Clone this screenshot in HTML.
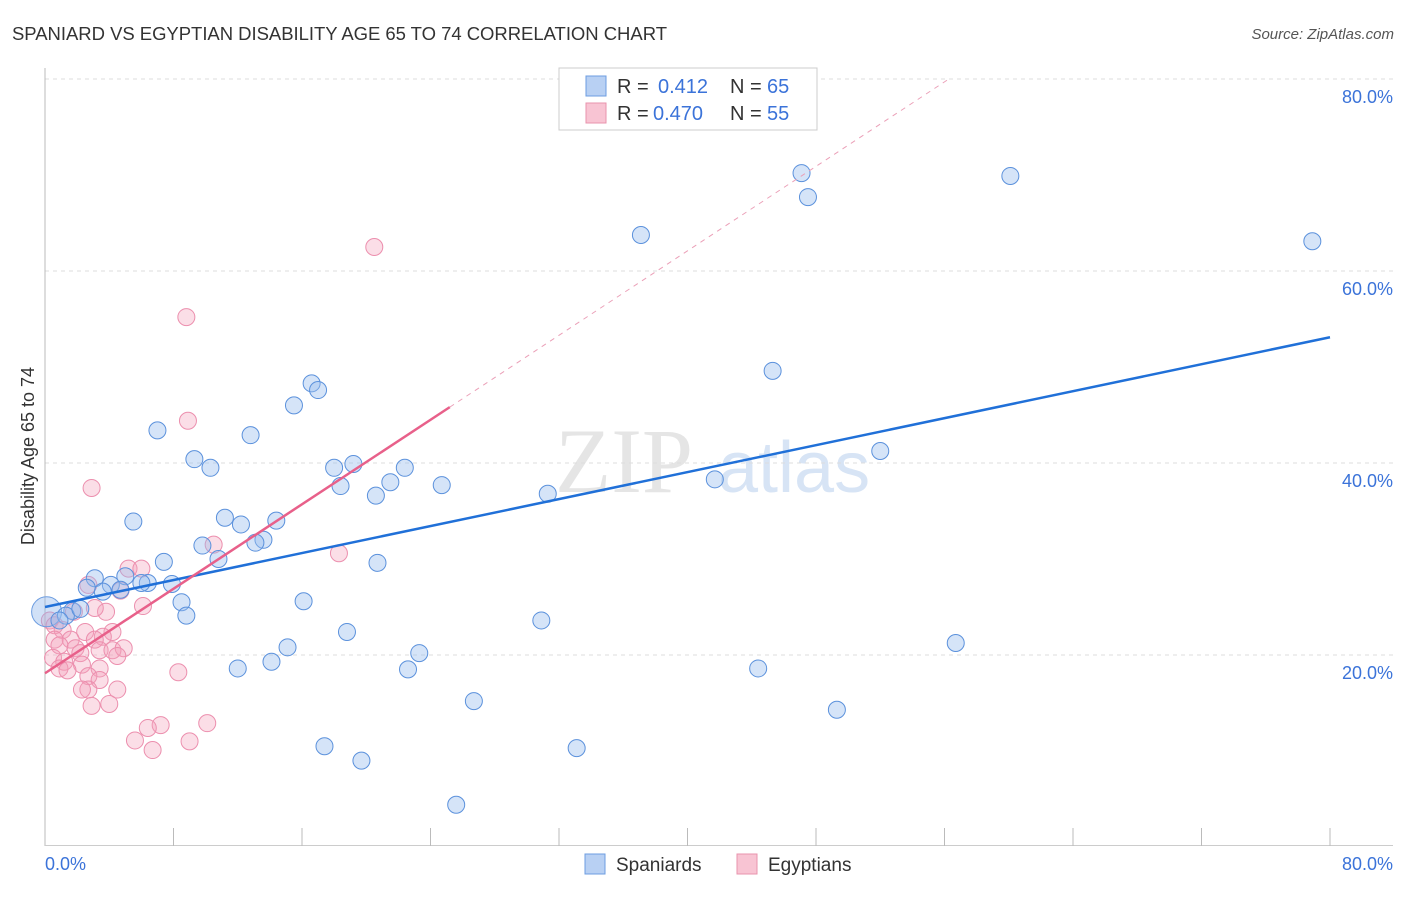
<!DOCTYPE html>
<html><head><meta charset="utf-8"><style>
body{margin:0;background:#fff;font-family:"Liberation Sans",sans-serif}
</style></head><body>
<svg width="1406" height="892" xmlns="http://www.w3.org/2000/svg" id="chart">
<text x="12" y="40" font-size="18.5" fill="#333" textLength="655">SPANIARD VS EGYPTIAN DISABILITY AGE 65 TO 74 CORRELATION CHART</text>
<text x="1394" y="39" font-size="15" fill="#555" font-style="italic" text-anchor="end">Source: ZipAtlas.com</text>
<text x="34" y="456" font-size="18" fill="#333" text-anchor="middle" transform="rotate(-90 34 456)">Disability Age 65 to 74</text>
<g><text x="555" y="492" font-size="92" fill="#e5e5e5" font-family="Liberation Serif,serif">ZIP</text><text x="718" y="492" font-size="72" fill="#d7e4f5">atlas</text></g>
<g id="grid"></g><g id="marks"></g>
<g>
<rect x="559" y="68" width="258" height="62" fill="#fff" stroke="#ccc"/>
<rect x="586" y="76" width="20" height="20" fill="#b8d0f3" stroke="#6d9de0"/>
<text x="617" y="93" font-size="20" fill="#333">R =</text>
<text x="658" y="93" font-size="20" fill="#3b73d9">0.412</text>
<text x="730" y="93" font-size="20" fill="#333">N =</text>
<text x="767" y="93" font-size="20" fill="#3b73d9">65</text>
<rect x="586" y="103" width="20" height="20" fill="#f8c4d3" stroke="#e993ad"/>
<text x="617" y="120" font-size="20" fill="#333">R =</text>
<text x="653" y="120" font-size="20" fill="#3b73d9">0.470</text>
<text x="730" y="120" font-size="20" fill="#333">N =</text>
<text x="767" y="120" font-size="20" fill="#3b73d9">55</text>
</g>
<g>
<rect x="585" y="854" width="20" height="20" fill="#b8d0f3" stroke="#6d9de0"/>
<text x="616" y="871" font-size="19" fill="#333">Spaniards</text>
<rect x="737" y="854" width="20" height="20" fill="#f8c4d3" stroke="#e993ad"/>
<text x="768" y="871" font-size="19" fill="#333">Egyptians</text>
</g>
</svg>
<script>
const blueX=[47.1,60.1,47.5,37.1,78.9,16.6,17.0,15.5,45.3,7.0,12.8,9.3,10.3,18.0,19.2,22.4,52.0,18.4,21.5,24.7,20.6,31.3,41.7,5.5,11.2,12.2,14.4,13.6,13.1,9.8,10.8,7.4,20.7,3.1,5.0,4.1,6.4,6.0,7.9,3.6,4.7,2.6,8.5,16.1,8.8,1.7,1.3,0.9,2.2,30.9,18.8,15.1,23.3,56.7,12.0,14.1,22.6,44.4,26.7,49.3,17.4,33.1,19.7,25.6];
const blueY=[70.2,69.9,67.7,63.75,63.1,48.3,47.6,46.0,49.6,43.4,42.9,40.4,39.5,39.5,39.9,39.5,41.25,37.6,38.0,37.7,36.6,36.8,38.3,33.9,34.3,33.6,34.0,32.0,31.7,31.4,30.0,29.7,29.6,28.0,28.2,27.3,27.5,27.5,27.4,26.6,26.8,27.0,25.5,25.6,24.1,24.6,24.1,23.6,24.8,23.6,22.4,20.8,20.2,21.25,18.6,19.3,18.5,18.6,15.2,14.3,10.5,10.3,9.0,4.4];
const pinkX=[20.5,8.8,8.9,2.9,10.5,18.3,5.2,6.0,2.7,4.7,6.1,3.8,3.1,1.8,0.3,0.6,1.1,2.5,4.2,3.6,0.6,1.6,3.1,0.9,1.9,3.4,4.2,4.9,2.2,0.5,1.2,4.5,2.3,3.4,0.9,1.4,8.3,2.7,3.4,2.7,4.5,2.3,4.0,2.9,10.1,7.2,6.4,5.6,9.0,6.7];
const pinkY=[62.5,55.2,44.4,37.4,31.5,30.6,29.0,29.0,27.3,26.7,25.1,24.5,24.9,24.5,23.6,23.1,22.6,22.4,22.4,21.9,21.6,21.6,21.6,21.0,20.7,20.5,20.5,20.7,20.2,19.7,19.3,19.9,19.0,18.6,18.6,18.4,18.2,17.8,17.4,16.4,16.4,16.4,14.9,14.7,12.9,12.7,12.4,11.1,11.0,10.1];
const yTicks=[20,40,60,80];
const blueLine=[25.0,53.1];
const pinkLine=[18.1,1.1];
const NS="http://www.w3.org/2000/svg";
const sx=v=>45+v*16.0625, sy=v=>847-v*9.6;
function mk(t,a,p){const e=document.createElementNS(NS,t);for(const k in a)e.setAttribute(k,a[k]);p.appendChild(e);return e;}
const grid=document.getElementById('grid'),marks=document.getElementById('marks');
yTicks.forEach(t=>{
 const l=mk('line',{x1:45,x2:1393,y1:sy(t),y2:sy(t),stroke:'#ddd','stroke-dasharray':'4,4'},grid);
 
 
 const tx=mk('text',{x:1393,y:sy(t)+24,'font-size':18,fill:'#3b73d9','text-anchor':'end'},grid);
 tx.textContent=t.toFixed(1)+'%';
 
 
});
mk('line',{x1:45,x2:45,y1:68,y2:846,stroke:'#bbb'},grid);
mk('line',{x1:45,x2:1393,y1:845.5,y2:845.5,stroke:'#ccc'},grid);
for(let i=1;i<=10;i++){mk('line',{x1:sx(i*8),x2:sx(i*8),y1:828,y2:846,stroke:'#bbb'},grid);}
let a=mk('text',{x:45,y:870,'font-size':18,fill:'#3b73d9'},grid);a.textContent='0.0%';


a=mk('text',{x:1393,y:870,'font-size':18,fill:'#3b73d9','text-anchor':'end'},grid);a.textContent='80.0%';


pinkX.forEach((x,i)=>{const c=mk('circle',{cx:sx(x),cy:sy(pinkY[i]),r:8.5,fill:'rgba(244,160,186,0.35)',stroke:'#ec8fae','stroke-width':1},marks);
 
 });
const big=mk('circle',{cx:sx(0.1),cy:sy(24.5),r:15,fill:'rgba(140,180,235,0.4)',stroke:'#6d9de0'},marks);


blueX.forEach((x,i)=>{const c=mk('circle',{cx:sx(x),cy:sy(blueY[i]),r:8.5,fill:'rgba(150,188,238,0.4)',stroke:'#5b91dc','stroke-width':1},marks);
 
 });
let l=mk('line',{x1:sx(0),y1:sy(blueLine[0]),x2:sx(80),y2:sy(blueLine[1]),stroke:'#2070d8','stroke-width':2.5},marks);


l=mk('line',{x1:sx(0),y1:sy(pinkLine[0]),x2:sx(25.2),y2:sy(pinkLine[0]+pinkLine[1]*25.2),stroke:'#e8608a','stroke-width':2.5},marks);


const xe=(80-pinkLine[0])/pinkLine[1];
l=mk('line',{x1:sx(25.2),y1:sy(pinkLine[0]+pinkLine[1]*25.2),x2:sx(xe),y2:sy(80),stroke:'#eba0b8','stroke-width':1,'stroke-dasharray':'5,5'},marks);


</script>
</body></html>
